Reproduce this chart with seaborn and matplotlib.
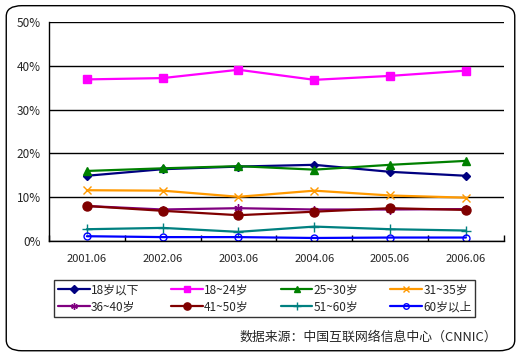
import matplotlib
matplotlib.use("Agg")
import matplotlib.pyplot as plt
from matplotlib.patches import FancyBboxPatch
from matplotlib.ticker import FuncFormatter, FixedLocator
import seaborn as sns
import pandas as pd

# data (percent)
years = ["2001.06", "2002.06", "2003.06", "2004.06", "2005.06", "2006.06"]
labels = ["18岁以下", "18~24岁", "25~30岁", "31~35岁",
          "36~40岁", "41~50岁", "51~60岁", "60岁以上"]
under18 = [14.9, 16.4, 17.0, 17.4, 15.8, 14.9]
age18_24 = [36.9, 37.2, 39.1, 36.8, 37.7, 38.9]
age25_30 = [16.0, 16.6, 17.1, 16.3, 17.4, 18.3]
age31_35 = [11.6, 11.5, 10.1, 11.5, 10.4, 9.9]
age36_40 = [8.0, 7.2, 7.5, 7.2, 7.2, 7.3]
age41_50 = [8.0, 6.9, 5.9, 6.7, 7.5, 7.1]
age51_60 = [2.7, 3.0, 2.1, 3.3, 2.7, 2.4]
over60 = [1.1, 0.9, 0.9, 0.7, 0.8, 0.8]
series = [under18, age18_24, age25_30, age31_35, age36_40, age41_50, age51_60, over60]

colors = ["#000080", "#FF00FF", "#008000", "#FF9900",
          "#800080", "#800000", "#008080", "#0000FF"]
markers = ["D", "s", "^", "x", (6, 2, 0), "o", "+", "o"]
msizes = [4.5, 5.5, 6, 5.5, 6, 6.5, 7, 5]

sns.set_style("white")
plt.rcParams["font.family"] = ["Noto Sans CJK SC", "DejaVu Sans"]
plt.rcParams["font.size"] = 8

fig = plt.figure(figsize=(5.21, 3.55), dpi=100)
ax = fig.add_axes([0.094, 0.321, 0.873, 0.617])

# rounded outer border
fig.patches.append(FancyBboxPatch((0.012, 0.012), 0.976, 0.972,
                                  boxstyle="round,pad=0,rounding_size=0.03",
                                  transform=fig.transFigure, fill=False,
                                  edgecolor="black", linewidth=1))

x = list(range(len(years)))
handles = []
for vals, lab, c, m, ms in zip(series, labels, colors, markers, msizes):
    df = pd.DataFrame({"x": x, "y": vals})
    kw = dict(marker=m, markersize=ms, color=c, linewidth=1.6,
              markeredgecolor=c, markeredgewidth=1.0)
    if lab == "60岁以上":
        kw["markerfacecolor"] = "none"
    else:
        kw["markerfacecolor"] = c
    sns.lineplot(data=df, x="x", y="y", ax=ax, label=lab, **kw)
    handles.append(ax.get_lines()[-1])

ax.get_legend().remove()
ax.set_xlim(-0.5, 5.5)
ax.set_ylim(0, 50)
ax.set_yticks([0, 10, 20, 30, 40, 50])
ax.yaxis.set_major_formatter(FuncFormatter(lambda v, p: f"{int(v)}%"))
ax.set_xticks(x)
ax.set_xticklabels(years)
ax.xaxis.set_minor_locator(FixedLocator([i + 0.5 for i in range(-1, 6)]))
ax.tick_params(axis="x", which="major", length=0, pad=9, labelsize=8)
ax.tick_params(axis="x", which="minor", direction="in", length=4, width=1, color="black", bottom=True)
ax.tick_params(axis="y", length=0, pad=6, labelsize=8.5)
ax.set_xlabel("")
ax.set_ylabel("")
ax.grid(axis="y", color="black", linewidth=1)
ax.set_axisbelow(True)
for s in ["top", "right"]:
    ax.spines[s].set_visible(False)
for s in ["left", "bottom"]:
    ax.spines[s].set_color("black")
    ax.spines[s].set_linewidth(1)

order = [0, 4, 1, 5, 2, 6, 3, 7]
leg = fig.legend([handles[i] for i in order], [labels[i] for i in order],
                 ncol=4, loc="lower left", bbox_to_anchor=(0.104, 0.107, 0.808, 0.11),
                 mode="expand", frameon=True, fancybox=False, edgecolor="black",
                 handlelength=2.7, handletextpad=0.1, labelspacing=0.35,
                 borderpad=0.3, fontsize=8.5, columnspacing=1.0, borderaxespad=0,
                 markerscale=0.8)
leg.get_frame().set_linewidth(1)

fig.text(0.955, 0.05, "数据来源：中国互联网络信息中心（CNNIC）", ha="right", va="center", fontsize=9.3)

fig.savefig("out.png", dpi=100)
